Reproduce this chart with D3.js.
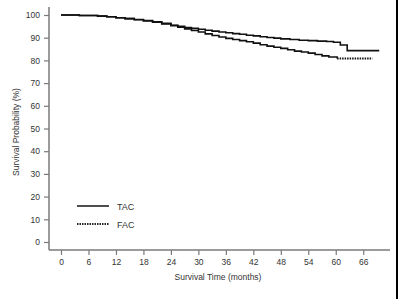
<!DOCTYPE html>
<html><head><meta charset="utf-8">
<script src="https://cdn.jsdelivr.net/npm/d3@7"></script>
<style>body{margin:0;background:#fff}svg{display:block}text{font-family:"Liberation Sans",Arial,sans-serif}</style>
</head><body><svg id="c" width="400" height="299"></svg>
<script>
const seriesNames = ["TAC", "FAC"];
const tacTime = [0, 4, 8, 10, 12, 14, 16, 18, 20, 22, 24, 25.5, 27, 28.5, 30, 31.5, 33, 34.5, 36, 37.5, 39, 40.5, 42, 43.5, 45, 46.5, 48, 50, 52, 54, 56, 58, 59.5, 61, 62.5, 69.5];
const tacSurv = [100, 99.8, 99.5, 99.2, 98.8, 98.4, 98.0, 97.6, 97.0, 96.3, 95.5, 95.0, 94.5, 94.1, 93.7, 93.3, 92.9, 92.5, 92.2, 91.8, 91.5, 91.1, 90.8, 90.4, 90.1, 89.8, 89.5, 89.2, 88.9, 88.7, 88.5, 88.3, 88.0, 86.8, 84.3, 84.3];
const facTime = [0, 4, 8, 10, 12, 14, 16, 18, 20, 22, 24, 25.5, 27, 28.5, 30, 31.5, 33, 34.5, 36, 37.5, 39, 40.5, 42, 43.5, 45, 46.5, 48, 49.5, 51, 52.5, 54, 55.5, 57, 58.5, 60.3, 68];
const facSurv = [100, 99.8, 99.5, 99.2, 98.8, 98.4, 97.9, 97.4, 96.8, 96.1, 95.3, 94.6, 93.9, 93.2, 92.5, 91.7, 91.0, 90.3, 89.7, 89.2, 88.7, 88.2, 87.6, 86.9, 86.3, 85.8, 85.3, 84.7, 84.1, 83.7, 83.2, 82.6, 82.0, 81.5, 80.8, 80.8];
const facCensorStart = 60.3;
const xTicks = [0, 6, 12, 18, 24, 30, 36, 42, 48, 54, 60, 66];
const yTicks = [0, 10, 20, 30, 40, 50, 60, 70, 80, 90, 100];

const svg = d3.select("#c");
const x = d3.scaleLinear().domain([0, 72]).range([61, 390.7]);
const y = d3.scaleLinear().domain([0, 100]).range([242, 15]);
const axisColor = "#7a7a7a", textColor = "#333";

// right border
svg.append("line").attr("x1", 397).attr("x2", 397).attr("y1", 0).attr("y2", 299)
  .attr("stroke", "#000").attr("stroke-width", 2);

// axes
const gx = svg.append("g").attr("transform", "translate(0,250)")
  .call(d3.axisBottom(x).tickValues(xTicks).tickSize(5).tickSizeOuter(0).tickPadding(4));
gx.select(".domain").remove();
gx.selectAll(".tick line").attr("stroke", axisColor).attr("stroke-width", 1.2);
gx.selectAll(".tick text").attr("fill", textColor).attr("font-size", 8.5).attr("font-family", "Liberation Sans, Arial, sans-serif");
svg.append("line").attr("x1", 49).attr("x2", 390).attr("y1", 250).attr("y2", 250)
  .attr("stroke", axisColor).attr("stroke-width", 1.5);

const gy = svg.append("g").attr("transform", "translate(49,0)")
  .call(d3.axisLeft(y).tickValues(yTicks).tickSize(5).tickSizeOuter(0).tickPadding(4));
gy.select(".domain").remove();
gy.selectAll(".tick line").attr("stroke", axisColor).attr("stroke-width", 1.2);
gy.selectAll(".tick text").attr("fill", textColor).attr("font-size", 8.5).attr("font-family", "Liberation Sans, Arial, sans-serif");
svg.append("line").attr("x1", 49).attr("x2", 49).attr("y1", 7).attr("y2", 250)
  .attr("stroke", axisColor).attr("stroke-width", 1.5);

// titles
svg.append("text").attr("x", 218).attr("y", 280).attr("text-anchor", "middle")
  .attr("font-size", 8.5).attr("fill", textColor).text("Survival Time (months)");
svg.append("text").attr("transform", "translate(19,132) rotate(-90)").attr("text-anchor", "middle")
  .attr("font-size", 8.5).attr("fill", textColor).text("Survival Probability (%)");

// curves
const line = d3.line().x(d => x(d[0])).y(d => y(d[1])).curve(d3.curveStepAfter);
const tac = tacTime.map((t, i) => [t, tacSurv[i]]);
const fac = facTime.map((t, i) => [t, facSurv[i]]);
svg.append("path").attr("d", line(tac)).attr("fill", "none").attr("stroke", "#111").attr("stroke-width", 1.6);
svg.append("path").attr("d", line(fac.filter(d => d[0] <= facCensorStart))).attr("fill", "none").attr("stroke", "#111").attr("stroke-width", 1.6);
svg.append("path").attr("d", line(fac.filter(d => d[0] >= facCensorStart))).attr("fill", "none").attr("stroke", "#111").attr("stroke-width", 2).attr("stroke-dasharray", "1.5,1");

// legend
const leg = [{name: seriesNames[0], dash: null, yy: 206}, {name: seriesNames[1], dash: "1.5,1", yy: 224}];
leg.forEach(l => {
  svg.append("line").attr("x1", 77).attr("x2", 109).attr("y1", l.yy).attr("y2", l.yy)
    .attr("stroke", "#222").attr("stroke-width", l.dash ? 2.2 : 1.6).attr("stroke-dasharray", l.dash);
  svg.append("text").attr("x", 117).attr("y", l.yy + 3.5).attr("font-size", 9).attr("fill", textColor).text(l.name);
});
</script></body></html>
